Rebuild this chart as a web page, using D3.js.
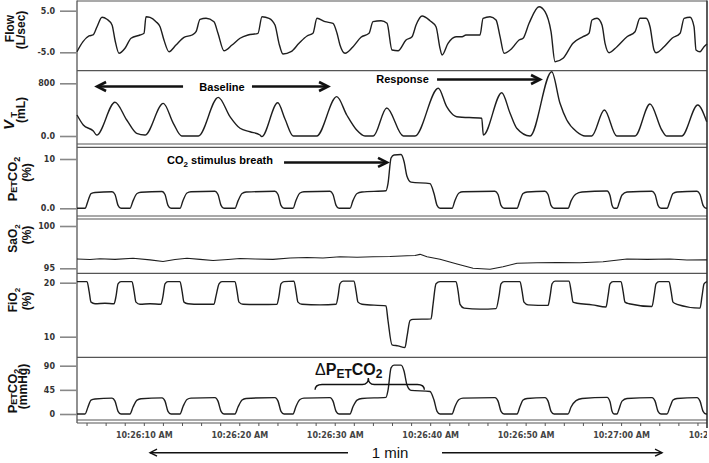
<!DOCTYPE html>
<html>
<head>
<meta charset="utf-8">
<script src="https://cdn.jsdelivr.net/npm/d3@7"></script>
<style>
body { margin: 0; background: #fff; }
svg { display: block; }
</style>
</head>
<body>
<div id="chart"></div>
<script>
// time in seconds after 10:26:00, value in panel units
var flow = [[3.00,-4.86],[3.63,-2.45],[4.26,-1.08],[4.68,-0.84],[5.10,1.15],[5.62,3.41],[6.14,2.93],[6.67,1.56],[6.98,-2.04],[7.40,-5.24],[8.03,-4.04],[8.66,-1.63],[9.60,-0.84],[10.02,-0.43],[10.23,3.56],[10.65,3.41],[11.28,2.36],[11.70,1.15],[12.11,-2.04],[12.64,-4.86],[13.37,-3.25],[14.21,-1.39],[15.05,-0.84],[15.47,-0.05],[15.89,2.93],[16.52,3.17],[17.35,2.36],[17.77,-0.43],[18.40,-4.62],[19.24,-3.25],[20.08,-1.63],[20.92,-0.84],[21.96,-0.43],[22.38,3.56],[23.12,3.17],[23.74,1.56],[24.16,-2.84],[24.58,-5.41],[25.42,-4.86],[26.26,-2.84],[27.10,-1.08],[27.72,-0.43],[28.14,3.17],[28.98,2.36],[29.82,1.97],[30.24,-0.43],[30.55,-3.25],[31.08,-5.24],[31.92,-3.65],[32.75,-1.39],[33.59,-0.43],[34.01,2.36],[34.85,2.60],[35.48,1.97],[36.00,-4.45],[36.63,-4.62],[37.47,-2.04],[38.10,-1.25],[38.52,1.56],[39.15,3.73],[39.98,2.60],[40.61,1.15],[41.03,-4.04],[41.24,-5.65],[41.87,-2.84],[42.71,-1.25],[43.34,-1.25],[43.75,-0.84],[45.22,-0.84],[45.54,3.17],[46.27,3.56],[46.90,2.76],[47.32,-1.25],[47.74,-5.24],[48.57,-4.04],[49.31,-2.04],[49.73,-1.63],[50.36,1.97],[51.40,5.96],[52.03,4.76],[52.66,-0.05],[53.08,-7.26],[53.92,-6.44],[54.96,-2.84],[56.01,-1.25],[56.64,-0.43],[56.95,2.76],[57.48,3.17],[58.00,1.56],[58.32,-2.84],[58.74,-5.10],[59.57,-3.65],[60.62,-1.25],[61.46,-0.05],[61.98,3.17],[62.61,3.17],[63.03,1.15],[63.45,-4.45],[63.66,-5.10],[64.50,-3.65],[65.34,-1.63],[66.18,-0.43],[66.60,3.17],[67.22,3.41],[67.64,1.15],[67.85,-4.45],[68.27,-4.86],[68.69,-3.65],[69.00,-3.00]];

var vt = [[3.00,319],[3.66,167],[4.71,76],[5.06,15],[6.98,512],[8.21,243],[9.25,41],[10.12,15],[12.04,496],[13.09,193],[13.97,0],[15.71,0],[17.80,587],[19.03,293],[20.08,117],[21.13,65],[22.17,15],[22.35,-10],[24.03,505],[24.79,258],[25.66,0],[28.11,0],[30.21,597],[31.26,319],[32.30,91],[33.17,0],[34.04,0],[35.45,425],[37.19,0],[38.41,0],[40.85,724],[41.73,445],[42.42,319],[42.78,293],[45.40,269],[45.57,15],[47.50,657],[48.37,345],[49.07,117],[50.46,0],[52.73,976],[53.60,496],[54.31,243],[55.35,65],[56.22,0],[56.92,0],[58.25,395],[59.54,0],[61.46,0],[63.03,486],[64.26,91],[64.78,0],[66.35,0],[68.03,471],[68.97,217]];

var co2Pct = [[3.00,0],[3.84,0],[4.15,1.5],[4.47,3.0],[4.89,3.2],[6.67,3.35],[6.98,2.8],[7.30,0.6],[7.61,0],[8.55,0],[8.87,1.5],[9.29,3.0],[9.71,3.25],[11.91,3.4],[12.22,2.8],[12.53,0.6],[12.85,0],[13.79,0],[14.11,1.6],[14.52,3.1],[14.94,3.35],[17.46,3.45],[17.77,2.8],[18.09,0.6],[18.40,0],[19.55,0],[19.87,1.5],[20.29,3.0],[20.71,3.3],[23.74,3.45],[24.06,2.8],[24.37,0.6],[24.69,0],[25.63,0],[25.94,1.6],[26.36,3.1],[26.78,3.35],[29.51,3.45],[29.82,2.8],[30.14,0.6],[30.45,0],[31.60,0],[31.92,1.6],[32.34,3.0],[32.86,3.3],[35.37,3.55],[35.58,5],[35.90,10.2],[36.21,10.8],[36.95,10.9],[37.26,9.5],[37.57,6.5],[37.99,5.3],[39.98,5.0],[40.40,3.0],[40.72,0.6],[41.03,0],[42.29,0],[42.60,1.6],[43.02,3.1],[43.44,3.35],[46.79,3.45],[47.11,2.8],[47.42,0.6],[47.74,0],[49.10,0],[49.41,1.6],[49.73,3.0],[50.15,3.3],[52.03,3.45],[52.35,2.8],[52.66,0.6],[52.98,0],[54.44,0],[54.76,1.5],[55.28,2.9],[55.91,3.3],[58.53,3.5],[58.84,2.6],[59.05,0.6],[59.26,0],[59.58,0],[59.78,1.0],[60.10,2.7],[60.62,3.3],[63.24,3.45],[63.56,2.8],[63.87,0.6],[64.18,0],[64.81,0],[65.12,1.5],[65.44,3.0],[65.86,3.3],[67.96,3.45],[68.27,2.8],[68.59,0.6],[68.90,0],[69.00,0]];

var sao2 = [[3.00,96.10],[4.36,96.04],[5.41,96.12],[6.98,96.06],[8.87,96.18],[10.65,96.00],[12.01,95.80],[13.27,96.04],[14.52,96.18],[15.89,96.06],[17.25,95.92],[18.82,96.04],[20.08,96.16],[21.65,96.10],[23.53,96.06],[25.32,96.22],[27.10,96.28],[28.77,96.22],[30.55,96.36],[32.34,96.31],[34.01,96.37],[35.79,96.39],[37.57,96.49],[38.41,96.51],[38.94,96.65],[39.67,96.37],[41.03,96.06],[42.81,95.51],[44.49,95.00],[46.27,94.88],[47.63,95.19],[49.10,95.59],[51.19,95.66],[53.29,95.69],[55.70,95.66],[58.11,95.78],[60.62,96.10],[62.72,96.06],[65.12,96.10],[66.90,95.98],[69.00,96.00]];

var fio2 = [[3.00,20.2],[4.05,20.2],[4.26,18.5],[4.47,16.4],[4.89,16.1],[5.93,16.2],[6.88,16.1],[7.09,17.5],[7.30,19.8],[7.61,20.2],[8.76,20.2],[8.97,18.5],[9.18,16.4],[9.60,16.0],[10.65,16.1],[11.80,16.0],[12.01,17.5],[12.22,19.8],[12.53,20.2],[13.79,20.2],[14.00,18.5],[14.21,16.4],[14.63,16.1],[15.89,16.0],[17.35,16.0],[17.56,17.5],[17.88,19.8],[18.19,20.2],[19.55,20.2],[19.76,18.5],[19.97,16.4],[20.39,16.0],[22.17,15.95],[23.95,16.0],[24.16,17.5],[24.37,19.8],[24.69,20.2],[25.73,20.3],[25.94,18.5],[26.15,16.4],[26.57,16.0],[28.46,15.9],[30.14,16.0],[30.35,17.5],[30.55,19.8],[30.87,20.3],[32.02,20.3],[32.23,18.5],[32.44,16.4],[32.86,16.0],[35.37,15.7],[35.58,13.0],[36.00,8.5],[36.63,8.3],[37.36,8.0],[37.57,10.0],[37.89,13.0],[38.20,13.2],[40.09,13.3],[40.30,16.0],[40.61,19.8],[41.03,20.2],[42.71,20.2],[42.92,18.5],[43.13,16.0],[43.55,15.3],[45.22,15.1],[46.90,15.2],[47.21,17.5],[47.42,19.8],[47.74,20.2],[49.41,20.2],[49.62,18.5],[49.83,16.4],[50.25,15.9],[52.35,15.8],[52.56,17.5],[52.77,19.8],[53.08,20.3],[54.55,20.3],[54.76,18.5],[54.97,16.4],[55.39,16.2],[56.96,15.9],[58.42,15.5],[58.63,17.5],[58.84,19.8],[59.16,20.2],[59.99,20.2],[60.20,18.5],[60.41,16.4],[60.83,16.1],[63.24,15.6],[63.45,17.5],[63.66,19.8],[63.98,20.2],[65.02,20.2],[65.23,18.5],[65.44,16.4],[65.86,16.0],[68.27,15.3],[68.48,17.5],[68.69,19.8],[69.00,20.2]];

var co2mmHg = [[3.00,0],[3.84,0],[4.15,13],[4.47,26],[4.89,28],[6.67,29.5],[6.98,24],[7.30,5],[7.61,0],[8.55,0],[8.87,13],[9.29,26],[9.71,28.5],[11.91,30],[12.22,24],[12.53,5],[12.85,0],[13.79,0],[14.11,14],[14.52,27],[14.94,29.5],[17.46,30.5],[17.77,24],[18.09,5],[18.40,0],[19.55,0],[19.87,13],[20.29,26],[20.71,29],[23.74,30.5],[24.06,24],[24.37,5],[24.69,0],[25.63,0],[25.94,14],[26.36,27],[26.78,29.5],[29.51,30.5],[29.82,24],[30.14,5],[30.45,0],[31.60,0],[31.92,14],[32.34,26],[32.86,29],[35.37,31],[35.58,44],[35.90,86],[36.21,91],[36.95,91],[37.26,80],[37.57,54],[37.99,44],[39.98,42],[40.40,26],[40.72,5],[41.03,0],[42.29,0],[42.60,14],[43.02,27],[43.44,29.5],[46.79,30.5],[47.11,24],[47.42,5],[47.74,0],[49.10,0],[49.41,14],[49.73,26],[50.15,29],[52.03,30.5],[52.35,24],[52.66,5],[52.98,0],[54.44,0],[54.76,13],[55.28,25],[55.91,29],[58.53,31],[58.84,23],[59.05,5],[59.26,0],[59.58,0],[59.78,9],[60.10,24],[60.62,29],[63.24,30.5],[63.56,24],[63.87,5],[64.18,0],[64.81,0],[65.12,13],[65.44,26],[65.86,29],[67.96,30.5],[68.27,24],[68.59,5],[68.90,0],[69.00,0]];

// ticks
var flowTicks = [5, -5], flowLabels = ["5.0", "-5.0"];
var vtTicks = [800, 0], vtLabels = ["800", "0.0"];
var pctTicks = [10, 0], pctLabels = ["10", "0.0"];
var satTicks = [100, 95], satLabels = ["100", "95"];
var fiTicks = [20, 10], fiLabels = ["20", "10"];
var mmTicks = [90, 45, 0], mmLabels = ["90", "45", "0"];
var timeTicks = d3.range(4, 71, 2);

var W = 709, H = 463;
var left = 77, right = 707;
var svg = d3.select("#chart").append("svg").attr("width", W).attr("height", H);

var x = d3.scaleLinear().domain([3, 69]).range([left, right]);
var yFlow = d3.scaleLinear().domain([-5, 5]).range([52.3, 10.7]);
var yVt = d3.scaleLinear().domain([0, 800]).range([136, 83.3]);
var yPct = d3.scaleLinear().domain([0, 10]).range([208.3, 159]);
var ySat = d3.scaleLinear().domain([95, 100]).range([268.3, 226]);
var yFi = d3.scaleLinear().domain([10, 20]).range([336.7, 282.7]);
var yMm = d3.scaleLinear().domain([0, 90]).range([414, 365.7]);

var font = "'Liberation Sans', Arial, sans-serif";
var lineColor = "#555";

// panel frames
var hLines = [1, 70.7, 144, 147.3, 216, 219, 273.3, 357.3, 420, 423];
svg.selectAll(".hline").data(hLines).enter().append("line")
  .attr("x1", left).attr("x2", right)
  .attr("y1", d => d).attr("y2", d => d)
  .attr("stroke", lineColor).attr("stroke-width", 1.2);
svg.append("line").attr("x1", left).attr("x2", left).attr("y1", 0.5).attr("y2", 423)
  .attr("stroke", lineColor).attr("stroke-width", 1.3);
svg.append("line").attr("x1", right).attr("x2", right).attr("y1", 0.5).attr("y2", 428)
  .attr("stroke", "#333").attr("stroke-width", 1.6);

function leftAxis(scale, vals, labels) {
  svg.append("g").attr("transform", "translate(" + left + ",0)")
    .call(d3.axisLeft(scale).tickValues(vals).tickSize(17).tickPadding(5)
      .tickFormat((d, i) => labels[i]))
    .call(g => g.select(".domain").remove())
    .call(g => g.selectAll(".tick line").attr("stroke", "#888").attr("stroke-width", 1.6))
    .call(g => g.selectAll("text")
      .attr("font-family", "'DejaVu Sans', Verdana, sans-serif")
      .attr("font-weight", "bold").attr("font-size", 8).attr("fill", "#333"));
}
leftAxis(yFlow, flowTicks, flowLabels);
leftAxis(yVt, vtTicks, vtLabels);
leftAxis(yPct, pctTicks, pctLabels);
leftAxis(ySat, satTicks, satLabels);
leftAxis(yFi, fiTicks, fiLabels);
leftAxis(yMm, mmTicks, mmLabels);

// time axis
svg.append("clipPath").attr("id", "axclip").append("rect")
  .attr("x", 0).attr("y", 0).attr("width", right).attr("height", H);
var fmt = d3.timeFormat("%I:%M:%S %p");
svg.append("g").attr("transform", "translate(0,423)").attr("clip-path", "url(#axclip)")
  .call(d3.axisBottom(x).tickValues(timeTicks).tickSize(3).tickPadding(6)
    .tickFormat(d => d % 10 === 0 ? fmt(new Date(2000, 0, 1, 10, 26, d)) : ""))
  .call(g => g.select(".domain").remove())
  .call(g => g.selectAll(".tick line").attr("stroke", "#555"))
  .call(g => g.selectAll("text")
    .attr("font-family", "'DejaVu Sans', Verdana, sans-serif")
    .attr("font-weight", "bold").attr("font-size", 8).attr("fill", "#444"));

// traces
function trace(data, y, curve, w) {
  svg.append("path").datum(data)
    .attr("fill", "none").attr("stroke", "#1e1e1e").attr("stroke-width", w)
    .attr("stroke-linejoin", "round")
    .attr("d", d3.line().x(d => x(d[0])).y(d => y(d[1])).curve(curve));
}
trace(flow, yFlow, d3.curveMonotoneX, 1.4);
trace(vt, yVt, d3.curveMonotoneX, 1.4);
trace(co2Pct, yPct, d3.curveMonotoneX, 1.4);
trace(sao2, ySat, d3.curveLinear, 1.1);
trace(fio2, yFi, d3.curveMonotoneX, 1.4);
trace(co2mmHg, yMm, d3.curveMonotoneX, 1.4);

// axis titles (rotated)
function vtitle(bx, cy, size, parts) {
  var t = svg.append("text").attr("transform", "translate(" + bx + "," + cy + ") rotate(-90)")
    .attr("text-anchor", "middle").attr("font-family", font).attr("font-weight", "bold")
    .attr("font-size", size).attr("fill", "#111");
  parts.forEach(p => {
    var s = t.append("tspan").text(p[0]);
    if (p[1]) s.attr("font-size", p[1]);
    if (p[2]) s.attr("dy", p[2]);
    if (p[3]) s.attr("font-style", p[3]);
  });
}
vtitle(14, 28.5, 12, [["Flow"]]);
vtitle(25, 30, 12, [["(L/sec)"]]);
vtitle(14, 121, 13, [["V", 15, 0, "italic"], [" T", 9, 3]]);
vtitle(25, 110, 12, [["(mL)"]]);
vtitle(17, 179, 13, [["P"], ["ET", 9, 0], ["CO", 13, 0], ["2", 9, 3]]);
vtitle(31, 172.5, 12, [["(%)"]]);
vtitle(17, 238.5, 12, [["SaO"], ["2", 8, 3]]);
vtitle(31, 235, 12, [["(%)"]]);
vtitle(17, 300, 12, [["FiO"], ["2", 8, 3]]);
vtitle(31, 301, 12, [["(%)"]]);
vtitle(17, 391, 13, [["P"], ["ET", 9, 0], ["CO", 13, 0], ["2", 9, 3]]);
vtitle(26.5, 386.5, 12, [["(mmHg)"]]);

// annotations
function arrow(x1, x2, y, w, head) {
  svg.append("line").attr("x1", x1).attr("x2", x2).attr("y1", y).attr("y2", y)
    .attr("stroke", "#111").attr("stroke-width", w);
  var dir = x2 > x1 ? -1 : 1;
  svg.append("polyline")
    .attr("points", [[x2 + dir * head, y - head * 0.5], [x2, y], [x2 + dir * head, y + head * 0.5]].join(" "))
    .attr("fill", "none").attr("stroke", "#111").attr("stroke-width", w)
    .attr("stroke-linejoin", "miter").attr("stroke-linecap", "butt");
}
var yBase = yVt(751);
arrow(x(14.11), x(5.10), yBase, 2.6, 9);
arrow(x(21.33), x(29.30), yBase, 2.6, 9);
svg.append("text").attr("x", x(18.19)).attr("y", yBase + 4).attr("text-anchor", "middle")
  .attr("font-family", font).attr("font-weight", "bold").attr("font-size", 11).text("Baseline");

var yResp = yVt(858);
arrow(x(40.72), x(51.51), yResp, 2.6, 9);
svg.append("text").attr("x", x(37.10)).attr("y", yResp + 4).attr("text-anchor", "middle")
  .attr("font-family", font).attr("font-weight", "bold").attr("font-size", 11).text("Response");

arrow(x(24.69), x(35.48), yPct(9.3), 2.6, 9);
var st = svg.append("text").attr("x", x(12.43)).attr("y", yPct(9.0))
  .attr("font-family", font).attr("font-weight", "bold").attr("font-size", 11);
st.append("tspan").text("CO");
st.append("tspan").text("2").attr("font-size", 8).attr("dy", 3);
st.append("tspan").text(" stimulus breath").attr("dy", -3);

// delta PETCO2 brace
var bx0 = x(27.94), bx1 = x(39.39), btip = x(33.52);
var byEnd = yMm(45), byArm = yMm(55), byTip = yMm(67);
var bp = d3.path();
bp.moveTo(bx0, byEnd);
bp.quadraticCurveTo(bx0, byArm, bx0 + 7, byArm);
bp.lineTo(btip - 6, byArm);
bp.quadraticCurveTo(btip, byArm, btip, byTip);
bp.quadraticCurveTo(btip, byArm, btip + 6, byArm);
bp.lineTo(bx1 - 7, byArm);
bp.quadraticCurveTo(bx1, byArm, bx1, byEnd);
svg.append("path").attr("d", bp.toString()).attr("fill", "none")
  .attr("stroke", "#111").attr("stroke-width", 1.4);

var dt = svg.append("text").attr("x", x(27.94)).attr("y", yMm(72.6))
  .attr("font-family", font).attr("font-weight", "bold").attr("font-size", 16).attr("fill", "#111");
dt.append("tspan").text("Δ").attr("font-weight", "normal");
dt.append("tspan").text("P");
dt.append("tspan").text("ET").attr("font-size", 12).attr("dy", 3);
dt.append("tspan").text("CO").attr("dy", -3);
dt.append("tspan").text("2").attr("font-size", 12).attr("dy", 3);

// 1 min span
var yMin = 452.7;
arrow(x(31.39), x(10.65), yMin, 1.4, 7);
arrow(x(41.24), x(64.29), yMin, 1.4, 7);
svg.append("text").attr("x", x(35.79)).attr("y", 457.5).attr("text-anchor", "middle")
  .attr("font-family", font).attr("font-size", 15).attr("fill", "#111").text("1 min");
</script>
</body>
</html>
